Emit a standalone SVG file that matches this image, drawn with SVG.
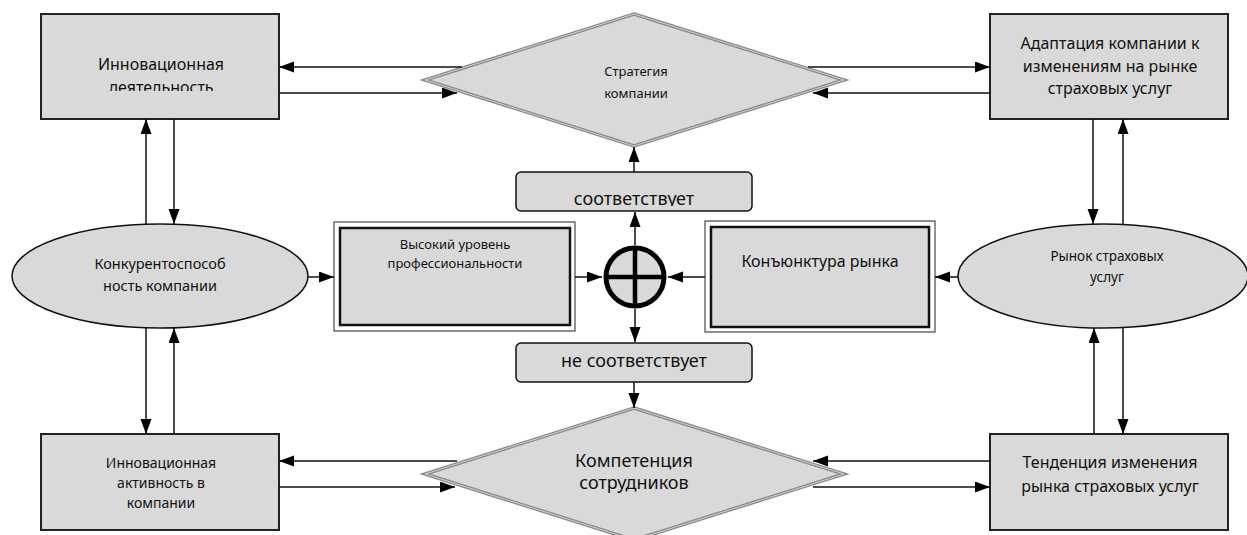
<svg xmlns="http://www.w3.org/2000/svg" width="1247" height="535" viewBox="0 0 1247 535">
<style>
  .box { fill: #d9d9d9; stroke: #222; stroke-width: 2; }
  .outer { fill: #fff; stroke: #222; stroke-width: 1; }
  .inner { fill: #d9d9d9; stroke: #111; stroke-width: 2.5; }
  .dia { fill: #d9d9d9; stroke: #8a8a8a; stroke-width: 3.5; }
  .dia2 { fill: none; stroke: #d0d0d0; stroke-width: 1; }
  .ell { fill: #d9d9d9; stroke: #111; stroke-width: 1.5; }
  .lbl { fill: #d9d9d9; stroke: #111; stroke-width: 1.5; }
  text { font-family: "Noto Sans", "Open Sans", sans-serif; fill: #111; text-anchor: middle; }
  .con line { stroke: #111; stroke-width: 1.5; }
  .arr { marker-end: url(#ah); }
</style>
<defs>
  <marker id="ah" markerUnits="userSpaceOnUse" markerWidth="16" markerHeight="12" refX="15" refY="5.5" orient="auto">
    <path d="M0,0 L15,5.5 L0,11 z" fill="#000"/>
  </marker>
  <clipPath id="clipTL"><rect x="41" y="14" width="238" height="77"/></clipPath>
  <clipPath id="clipS"><rect x="516" y="172" width="236" height="34"/></clipPath>
</defs>
<rect width="1247" height="535" fill="#fff"/>

<g id="innov-activity-top">
  <rect class="box" x="41" y="14" width="238" height="105"/>
  <g clip-path="url(#clipTL)" font-size="16">
    <text x="161" y="70">Инновационная</text>
    <text x="161" y="93">деятельность</text>
  </g>
</g>

<g id="strategy">
  <polygon class="dia" points="634,14 844,80 634,146 425,80"/>
  <polygon class="dia2" points="634,14 844,80 634,146 425,80"/>
  <text x="636" y="76" font-size="13">Стратегия</text>
  <text x="636" y="98" font-size="13">компании</text>
</g>

<g id="adaptation">
  <rect class="box" x="990" y="14" width="238" height="105"/>
  <text x="1110" y="49" font-size="16">Адаптация компании к</text>
  <text x="1110" y="72" font-size="16">изменениям на рынке</text>
  <text x="1110" y="94" font-size="16">страховых услуг</text>
</g>

<g id="corresponds">
  <rect class="lbl" x="516" y="172" width="236" height="39" rx="5"/>
  <text x="634" y="205" font-size="18" clip-path="url(#clipS)">соответствует</text>
</g>

<g id="competitiveness">
  <ellipse class="ell" cx="160" cy="276" rx="148" ry="52"/>
  <text x="160" y="269" font-size="14.5">Конкурентоспособ</text>
  <text x="160" y="291" font-size="14.5">ность компании</text>
</g>

<g id="professionalism">
  <rect class="outer" x="334" y="222" width="241" height="109"/>
  <rect class="inner" x="340" y="228" width="230" height="97"/>
  <text x="455" y="249" font-size="13">Высокий уровень</text>
  <text x="455" y="268" font-size="13">профессиональности</text>
</g>

<g id="sum">
  <circle cx="635" cy="277" r="29" fill="#d9d9d9" stroke="#000" stroke-width="5"/>
  <line x1="606" y1="277" x2="664" y2="277" stroke="#000" stroke-width="4.5"/>
  <line x1="635" y1="248" x2="635" y2="306" stroke="#000" stroke-width="4.5"/>
</g>

<g id="conjuncture">
  <rect class="outer" x="705" y="221" width="230" height="111"/>
  <rect class="inner" x="711" y="227" width="218" height="100"/>
  <text x="820" y="267" font-size="16">Конъюнктура рынка</text>
</g>

<g id="insurance-market">
  <ellipse class="ell" cx="1103" cy="276" rx="145" ry="52"/>
  <text x="1107" y="261" font-size="13.5">Рынок страховых</text>
  <text x="1107" y="282" font-size="13.5">услуг</text>
</g>

<g id="not-corresponds">
  <rect class="lbl" x="516" y="343" width="236" height="39" rx="5"/>
  <text x="634" y="367" font-size="18">не соответствует</text>
</g>

<g id="innov-activity-bottom">
  <rect class="box" x="41" y="434" width="238" height="96"/>
  <text x="161" y="468" font-size="14">Инновационная</text>
  <text x="161" y="488" font-size="14">активность в</text>
  <text x="161" y="508" font-size="14">компании</text>
</g>

<g id="competence">
  <polygon class="dia" points="634,408 844,474 634,540 425,474"/>
  <polygon class="dia2" points="634,408 844,474 634,540 425,474"/>
  <text x="634" y="467" font-size="18">Компетенция</text>
  <text x="634" y="489" font-size="18">сотрудников</text>
</g>

<g id="trend">
  <rect class="box" x="990" y="434" width="238" height="96"/>
  <text x="1110" y="468" font-size="16">Тенденция изменения</text>
  <text x="1110" y="492" font-size="16">рынка страховых услуг</text>
</g>

<g class="con" id="connectors">
  <!-- top horizontal -->
  <line class="arr" x1="462" y1="67" x2="279" y2="67"/>
  <line class="arr" x1="279" y1="93" x2="457" y2="93"/>
  <line class="arr" x1="808" y1="67" x2="990" y2="67"/>
  <line class="arr" x1="990" y1="93" x2="813" y2="93"/>
  <!-- bottom horizontal -->
  <line class="arr" x1="457" y1="461" x2="279" y2="461"/>
  <line class="arr" x1="279" y1="487" x2="455" y2="487"/>
  <line class="arr" x1="990" y1="461" x2="813" y2="461"/>
  <line class="arr" x1="813" y1="487" x2="990" y2="487"/>
  <!-- left verticals -->
  <line class="arr" x1="146" y1="224" x2="146" y2="119"/>
  <line class="arr" x1="174" y1="119" x2="174" y2="224"/>
  <line class="arr" x1="146" y1="328" x2="146" y2="434"/>
  <line class="arr" x1="174" y1="434" x2="174" y2="328"/>
  <!-- right verticals -->
  <line class="arr" x1="1093" y1="119" x2="1093" y2="224"/>
  <line class="arr" x1="1123" y1="224" x2="1123" y2="119"/>
  <line class="arr" x1="1094" y1="434" x2="1094" y2="328"/>
  <line class="arr" x1="1123" y1="328" x2="1123" y2="434"/>
  <!-- middle row -->
  <line class="arr" x1="308" y1="277" x2="334" y2="277"/>
  <line class="arr" x1="575" y1="277" x2="602" y2="277"/>
  <line class="arr" x1="705" y1="277" x2="668" y2="277"/>
  <line class="arr" x1="958" y1="277" x2="935" y2="277"/>
  <!-- center verticals -->
  <line class="arr" x1="635" y1="245" x2="635" y2="212"/>
  <line class="arr" x1="635" y1="309" x2="635" y2="342"/>
  <line class="arr" x1="634" y1="172" x2="634" y2="147"/>
  <line class="arr" x1="634" y1="382" x2="634" y2="408"/>
</g>
</svg>
